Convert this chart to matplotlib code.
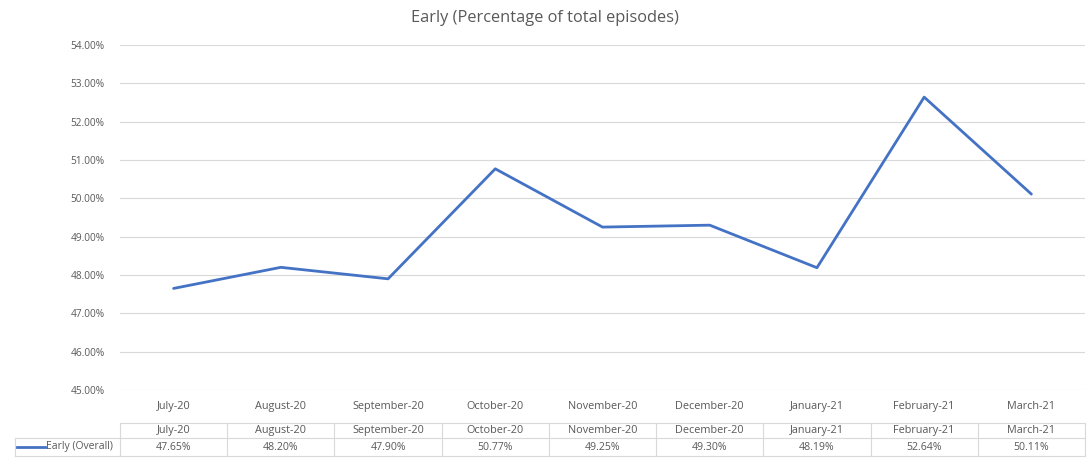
# Early episodes chart with data table underneath

import matplotlib.pyplot as plt
from matplotlib.transforms import blended_transform_factory

# Data
months = ['July-20', 'August-20', 'September-20', 'October-20', 'November-20',
          'December-20', 'January-21', 'February-21', 'March-21']
early = [47.65, 48.20, 47.90, 50.77, 49.25, 49.30, 48.19, 52.64, 50.11]
series_name = 'Early (Overall)'
title = 'Early (Percentage of total episodes)'
yticks = [45, 46, 47, 48, 49, 50, 51, 52, 53, 54]

# Style
plt.rcParams['font.family'] = ['Open Sans', 'DejaVu Sans']
txt = '#595959'
grid = '#d9d9d9'
blue = '#4472C4'
fs = 7.8

W, H = 1089, 458
fig = plt.figure(figsize=(W / 100, H / 100), dpi=100)
ax = fig.add_axes([120 / W, 1 - 390 / H, 965 / W, 345 / H])

x = list(range(len(months)))
ax.plot(x, early, color=blue, linewidth=2.0, solid_capstyle='round')
ax.set_xlim(-0.5, len(months) - 0.5)
ax.set_ylim(45, 54)
ax.set_yticks(yticks)
ax.set_yticklabels(['%.2f%%' % v for v in yticks], color=txt, fontsize=7.3)
ax.set_xticks(x)
ax.set_xticklabels(months, color=txt, fontsize=fs)
ax.tick_params(axis='y', length=0, pad=11)
ax.tick_params(axis='x', length=0, pad=8)
ax.grid(axis='y', color=grid, linewidth=0.8)
for s in ax.spines.values():
    s.set_visible(False)
ax.set_axisbelow(True)

fig.text(0.5, 1 - 18 / H, title, ha='center', va='center', color=txt, fontsize=11.8)

# Data table
tr = blended_transform_factory(ax.transData, fig.transFigure)
y_top, y_mid, y_bot = 1 - 423 / H, 1 - 438 / H, 1 - 456 / H
lw = 0.8
n = len(months)
for yy in (y_top, y_mid, y_bot):
    ax.plot([-0.5, n - 0.5], [yy, yy], color=grid, lw=lw, transform=tr, clip_on=False)
for i in range(n + 1):
    ax.plot([i - 0.5, i - 0.5], [y_top, y_bot], color=grid, lw=lw, transform=tr, clip_on=False)
for i, m in enumerate(months):
    ax.text(i, (y_top + y_mid) / 2, m, transform=tr, ha='center', va='center',
            color=txt, fontsize=fs)
    ax.text(i, (y_mid + y_bot) / 2, '%.2f%%' % early[i], transform=tr, ha='center',
            va='center', color=txt, fontsize=7.6)

# Legend cell
fx0, fx1 = 15 / W, 120 / W
for yy in (y_mid, y_bot):
    fig.add_artist(plt.Line2D([fx0, fx1], [yy, yy], color=grid, lw=lw))
fig.add_artist(plt.Line2D([fx0, fx0], [y_mid, y_bot], color=grid, lw=lw))
ym = (y_mid + y_bot) / 2
fig.add_artist(plt.Line2D([17 / W, 45 / W], [ym, ym], color=blue, lw=2.0))
fig.text(46 / W, ym, series_name, ha='left', va='center', color=txt, fontsize=7.5)

fig.savefig('out.png', dpi=100)
